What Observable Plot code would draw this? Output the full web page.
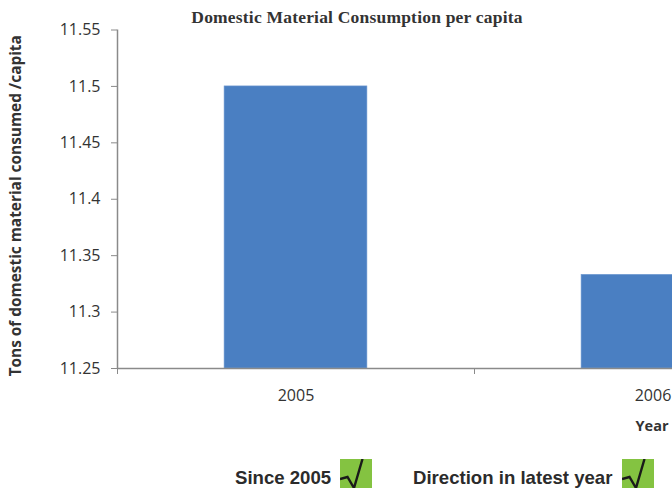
<!DOCTYPE html>
<html>
<head>
<meta charset="utf-8">
<script src="https://cdn.jsdelivr.net/npm/d3@7"></script>
<script src="https://cdn.jsdelivr.net/npm/@observablehq/plot@0.6"></script>
<style>
html,body{margin:0;padding:0;background:#fff;overflow:hidden;width:672px;height:488px}
#title{position:relative;z-index:1;height:12px;width:714px;text-align:center;font:bold 17.5px "Liberation Serif",serif;color:#333;line-height:35px;letter-spacing:0.2px;white-space:nowrap}
#chart{height:442px}
#legend{position:relative;height:34px;font:bold 18.6px "Liberation Sans",sans-serif;color:#2b2b2b}
#legend span{position:absolute;line-height:17px;white-space:nowrap}
#legend svg{position:absolute;top:5px;display:block}
</style>
</head>
<body>
<div id="title">Domestic Material Consumption per capita</div>
<div id="chart"></div>
<div id="legend">
  <span style="left:235px;top:14.9px">Since 2005</span>
  <svg style="left:340px" width="32" height="29" viewBox="0 0 32 29"><rect width="32" height="29" fill="#84c341"/><path d="M0 20 L7.5 18 L14 29 L22.5 0" fill="none" stroke="#1a1a1a" stroke-width="2.4"/></svg>
  <span style="left:413px;top:14.9px">Direction in latest year</span>
  <svg style="left:622px" width="32" height="29" viewBox="0 0 32 29"><rect width="32" height="29" fill="#84c341"/><path d="M0 20 L7.5 18 L14 29 L22.5 0" fill="none" stroke="#1a1a1a" stroke-width="2.4"/></svg>
</div>
<script>
const years = [2005, 2006];
const values = [11.5, 11.333];
const yTicks = [11.25, 11.3, 11.35, 11.4, 11.45, 11.5, 11.55];
const bandEdges = [2004.5, 2005.5];
const yLabel = ["Tons of domestic material consumed /capita"];
const xLabel = ["Year"];
const barHalf = 0.2;
const table = years.map((year, i) => ({year, value: values[i]}));
const axisColor = "#8a8a8a";
const textColor = "#333333";
const bodyFont = "Open Sans, sans-serif";

const plot = Plot.plot({
  width: 672,
  height: 442,
  marginLeft: 117,
  marginRight: 0,
  marginTop: 17.5,
  marginBottom: 86,
  style: {fontFamily: bodyFont, background: "#fff"},
  x: {type: "linear", domain: [2004.5, 2006.5], range: [117, 831]},
  y: {type: "linear", domain: [11.25, 11.55]},
  marks: [
    Plot.rect(table, {
      x1: d => d.year - barHalf,
      x2: d => d.year + barHalf,
      y1: () => 11.25,
      y2: "value",
      fill: "#4a7fc2",
      stroke: "#6f9ad0",
      strokeWidth: 0.6,
      clip: "frame"
    }),
    Plot.ruleY([11.25], {stroke: axisColor, strokeWidth: 1.5}),
    Plot.ruleX([2004.5], {stroke: axisColor, strokeWidth: 1.5}),
    Plot.axisY({
      ticks: yTicks,
      tickFormat: d => String(+d.toFixed(2)),
      tickSize: 6,
      tickPadding: 11,
      label: null,
      stroke: axisColor,
      fill: textColor,
      fontSize: 16
    }),
    Plot.axisX({
      anchor: "bottom",
      ticks: bandEdges,
      tickFormat: () => "",
      tickSize: 6,
      label: null,
      stroke: axisColor
    }),
    Plot.axisX({
      anchor: "bottom",
      ticks: years,
      tickFormat: d => String(d),
      tickSize: 0,
      tickPadding: 21,
      label: null,
      fill: textColor,
      fontSize: 16
    }),
    Plot.text(xLabel, {
      x: () => 2006,
      frameAnchor: "bottom",
      dx: -1,
      dy: 58,
      text: d => d,
      fontWeight: "bold",
      fontSize: 14.5,
      fill: textColor,
      lineAnchor: "middle"
    }),
    Plot.text(yLabel, {
      frameAnchor: "left",
      dx: -101,
      dy: 6.5,
      rotate: -90,
      text: d => d,
      textAnchor: "middle",
      fontWeight: "bold",
      fontSize: 15.4,
      fill: textColor
    })
  ]
});
document.getElementById("chart").appendChild(plot);
</script>
</body>
</html>
